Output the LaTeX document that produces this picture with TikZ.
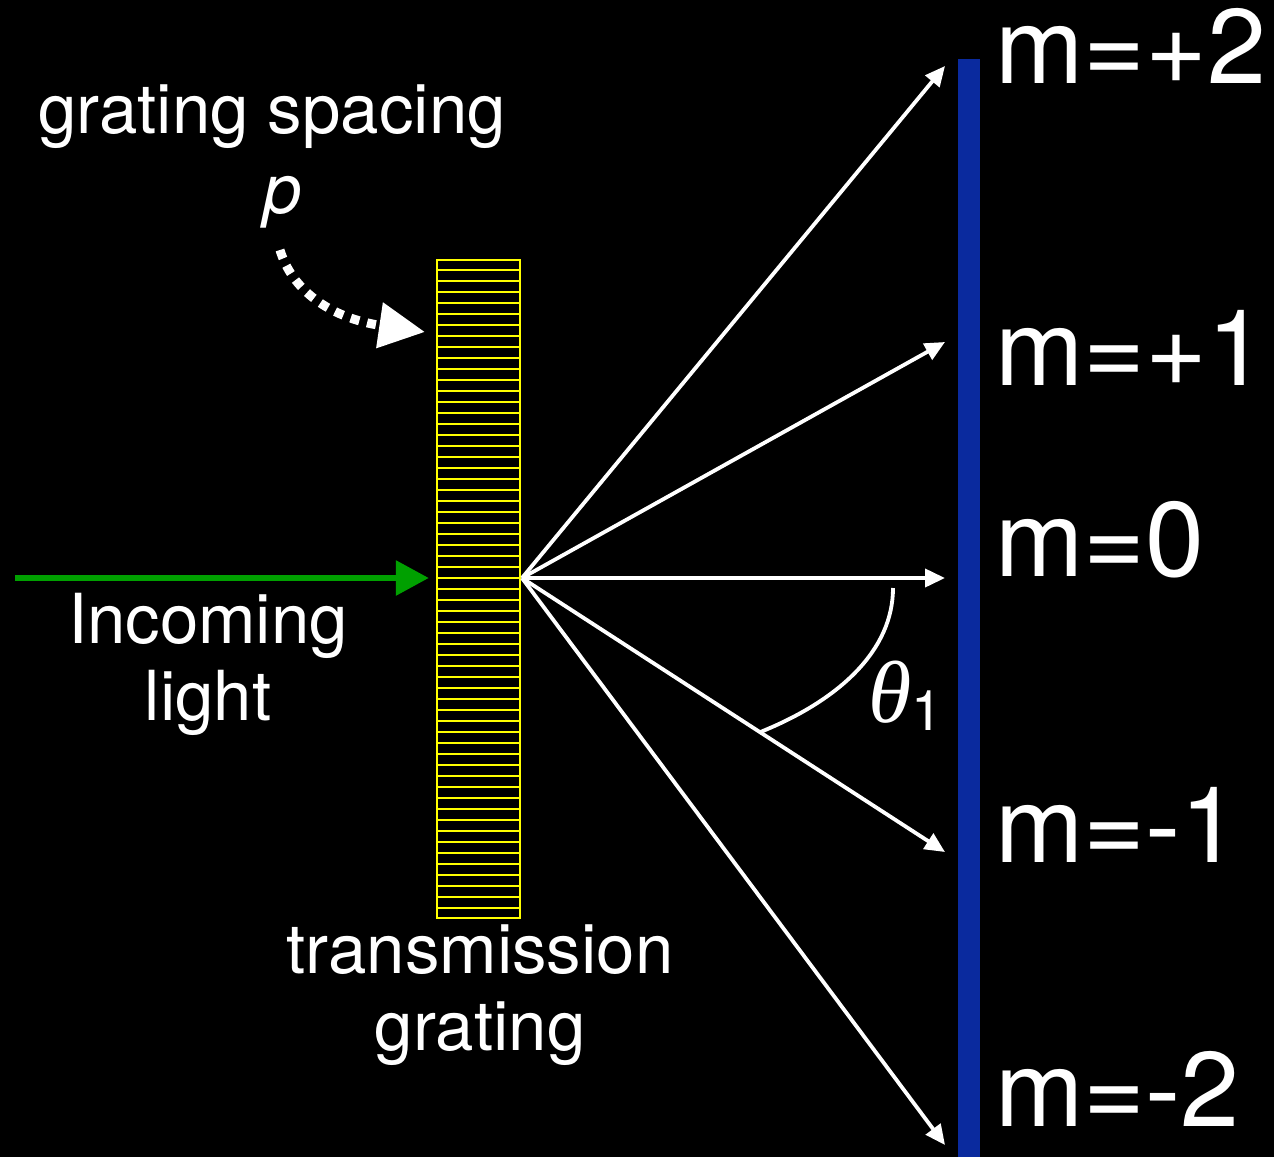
\documentclass[tikz,border=0pt]{standalone}
\usepackage{fontspec}
\setmainfont{TeX Gyre Heros}
\newfontfamily\anglefont{Liberation Serif}
\definecolor{grgreen}{HTML}{00A000}
\definecolor{grblue}{HTML}{0A2A9E}
\definecolor{gryellow}{HTML}{FFFF00}
\usetikzlibrary{positioning, arrows.meta, calc}

\begin{document}
\begin{tikzpicture}[x=0.5pt, y=-0.5pt, every node/.style={text=white, inner sep=0pt}]
        \fill[black] (0,0) rectangle (1274,1157);
        \useasboundingbox (0,0) rectangle (1274,1157);
        \node[draw=gryellow, line width=1.2pt, minimum width=41.5pt, minimum height=329pt] (grating) at (478.5,589) {};
        \foreach \i in {1,...,59}
          \draw[gryellow, line width=1pt] ($(grating.north west)!\i/60!(grating.south west)$) -- ($(grating.north east)!\i/60!(grating.south east)$);
        \node[fill=grblue, minimum width=11pt, minimum height=549pt, anchor=north] (screen) at (969,59) {};
        \coordinate (src) at (522,578);
        \coordinate (mp2) at (945,66);
        \coordinate (mp1) at (945,342);
        \coordinate (m0) at (945,578);
        \coordinate (mm1) at (945,852);
        \coordinate (mm2) at (945,1145);
        \foreach \tip in {mp2,mp1,m0,mm1,mm2}
          \draw[white, line width=1.9pt, -{Triangle[length=10pt, width=9pt]}] (src) -- (\tip);
        \coordinate (lightin) at (15,578);
        \draw[grgreen, line width=3pt, -{Triangle[length=16.5pt, width=17pt]}] (lightin) -- ($(lightin -| grating.west)+(-7,0)$);
        \node[font=\fontsize{34.5}{38.5}\selectfont, anchor=base] (spacing) at (272,133) {grating spacing};
        \node[font=\fontsize{34.5}{38.5}\selectfont\itshape, anchor=base] (pitch) at (283,213) {p};
        \coordinate (dotstart) at (280,250);
        \coordinate (dotend) at (425,332);
        \draw[white, line width=4.5pt, dash pattern=on 4.5pt off 4pt, -{Triangle[length=23pt, width=22pt]}] (dotstart) .. controls (292,290) and (330,318) .. (dotend);
        \coordinate (arcstart) at (893,588);
        \coordinate (arcend) at ($(src)!0.5626!(mm1)$);
        \draw[white, line width=1.9pt] (arcstart) .. controls (893,650) and (840,700) .. (arcend);
        \node[font=\fontsize{44}{46}\selectfont, anchor=base west] (theta) at (868,722) {{\anglefont\itshape θ}\raisebox{-4pt}{\fontsize{28}{30}\selectfont 1}};
        \node[font=\fontsize{34.5}{38.5}\selectfont, align=center, anchor=base] (incoming) at (208,720) {Incoming\\light};
        \node[font=\fontsize{34.5}{38.5}\selectfont, align=center, anchor=base] (kind) at (480,1050) {transmission\\grating};
        \node[font=\fontsize{53}{56}\selectfont, anchor=base west] (lblp2) at (995,83) {m=+2};
        \node[font=\fontsize{53}{56}\selectfont, anchor=base west] (lblp1) at (995,385) {m=+1};
        \node[font=\fontsize{53}{56}\selectfont, anchor=base west] (lbl0) at (995,576) {m=0};
        \node[font=\fontsize{53}{56}\selectfont, anchor=base west] (lblm1) at (995,862) {m=-1};
        \node[font=\fontsize{53}{56}\selectfont, anchor=base west] (lblm2) at (995,1126) {m=-2};
      \end{tikzpicture}
\end{document}
